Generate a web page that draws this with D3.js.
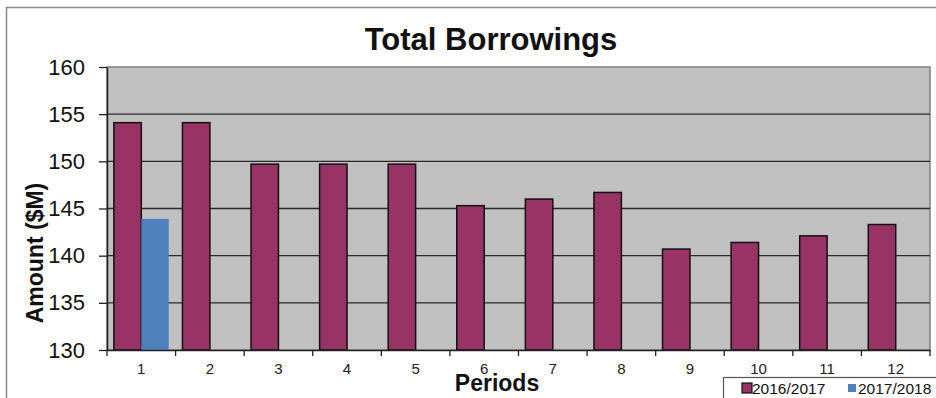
<!DOCTYPE html>
<html>
<head>
<meta charset="utf-8">
<script src="https://cdn.jsdelivr.net/npm/d3@7"></script>
<style>
  html, body { margin: 0; padding: 0; background: #fff; }
  svg { display: block; font-family: "Liberation Sans", Arial, sans-serif; }
</style>
</head>
<body>
<svg id="chart" width="936" height="398"></svg>
<script>
// Borrowings per period, in $M
const periods = ["1","2","3","4","5","6","7","8","9","10","11","12"];
const series2016 = [154.1, 154.1, 149.7, 149.7, 149.7, 145.3, 146.0, 146.7, 140.7, 141.4, 142.1, 143.3];
const series2017 = [143.9, null, null, null, null, null, null, null, null, null, null, null];
const seriesNames = ["2016/2017", "2017/2018"];
const seriesColors = ["#993366", "#4f81bd"];
const yTicks = [130, 135, 140, 145, 150, 155, 160];

const svg = d3.select("#chart");
const plot = { left: 107, right: 930, top: 67, bottom: 350 };

// outer chart frame (top and left edges visible)
svg.append("path")
  .attr("d", "M6.5,398 V7.5 H936")
  .attr("fill", "none").attr("stroke", "#8a8a8a").attr("stroke-width", 1.5);

const x = d3.scaleBand().domain(periods)
  .range([plot.left, plot.right]).paddingInner(0.2).paddingOuter(0.1);
const xs = d3.scaleBand().domain(seriesNames).range([0, x.bandwidth()]);
const y = d3.scaleLinear().domain([130, 160]).range([plot.bottom, plot.top]);

// plot background
svg.append("rect")
  .attr("x", plot.left).attr("y", plot.top)
  .attr("width", plot.right - plot.left).attr("height", plot.bottom - plot.top)
  .attr("fill", "#c0c0c0").attr("stroke", "#808080").attr("stroke-width", 1.5);

// horizontal gridlines
svg.append("g").selectAll("line")
  .data(yTicks.filter(t => t > 130 && t < 160)).join("line")
  .attr("x1", plot.left).attr("x2", plot.right)
  .attr("y1", d => y(d)).attr("y2", d => y(d))
  .attr("stroke", "#2a2a2a").attr("stroke-width", 1.3);

// bars
const rows = periods.map((p, i) => ({ p, vals: [series2016[i], series2017[i]] }));
const groups = svg.append("g").selectAll("g").data(rows).join("g")
  .attr("transform", d => `translate(${x(d.p)},0)`);
groups.selectAll("rect")
  .data(d => d.vals.map((v, k) => ({ v, k })).filter(e => e.v != null))
  .join("rect")
  .attr("x", e => xs(seriesNames[e.k]))
  .attr("width", xs.bandwidth())
  .attr("y", e => y(e.v))
  .attr("height", e => y(130) - y(e.v))
  .attr("fill", e => seriesColors[e.k])
  .attr("stroke", e => e.k === 0 ? "#111" : "none")
  .attr("stroke-width", 1.5);

// y axis
const yAxis = svg.append("g")
  .attr("transform", `translate(${plot.left},0)`)
  .call(d3.axisLeft(y).tickValues(yTicks).tickSize(8).tickPadding(14).tickSizeOuter(0));
yAxis.select(".domain").attr("stroke", "#222").attr("stroke-width", 1.5);
yAxis.selectAll(".tick line").attr("stroke", "#222").attr("stroke-width", 1.3);
yAxis.selectAll(".tick text")
  .attr("font-size", 22).attr("fill", "#111")
  .attr("font-family", "'Liberation Sans', Arial, sans-serif");

// x axis: labels at band centres, ticks at band boundaries
const xAxis = svg.append("g")
  .attr("transform", `translate(0,${plot.bottom})`)
  .call(d3.axisBottom(x).tickSize(0).tickPadding(13).tickSizeOuter(0));
xAxis.select(".domain").attr("stroke", "#222").attr("stroke-width", 1.5);
xAxis.selectAll(".tick text")
  .attr("font-size", 15).attr("fill", "#222")
  .attr("font-family", "'Liberation Sans', Arial, sans-serif");
const boundaries = d3.range(periods.length + 1).map(i => plot.left + i * x.step());
xAxis.selectAll("line.bound").data(boundaries).join("line")
  .attr("class", "bound")
  .attr("x1", d => d).attr("x2", d => d)
  .attr("y1", 0).attr("y2", 6)
  .attr("stroke", "#222").attr("stroke-width", 1.3);

// title
svg.append("text")
  .attr("x", 491).attr("y", 50)
  .attr("text-anchor", "middle")
  .attr("font-size", 31).attr("font-weight", "bold").attr("fill", "#111")
  .text("Total Borrowings");

// axis titles
svg.append("text")
  .attr("transform", "translate(43,253) rotate(-90)")
  .attr("text-anchor", "middle")
  .attr("font-size", 23).attr("font-weight", "bold").attr("fill", "#111")
  .text("Amount ($M)");
svg.append("text")
  .attr("x", 497).attr("y", 391)
  .attr("text-anchor", "middle")
  .attr("font-size", 23).attr("font-weight", "bold").attr("fill", "#111")
  .text("Periods");

// legend
const legend = svg.append("g");
legend.append("rect")
  .attr("x", 723.5).attr("y", 377.5).attr("width", 230).attr("height", 40)
  .attr("fill", "#fff").attr("stroke", "#555").attr("stroke-width", 1.2);
const legendItems = [
  { name: seriesNames[0], color: seriesColors[0], sx: 742, size: 10, stroke: "#111", tx: 752 },
  { name: seriesNames[1], color: seriesColors[1], sx: 848, size: 8, stroke: "none", tx: 858 }
];
legendItems.forEach(it => {
  legend.append("rect")
    .attr("x", it.sx).attr("y", 388 - it.size / 2)
    .attr("width", it.size).attr("height", it.size)
    .attr("fill", it.color).attr("stroke", it.stroke).attr("stroke-width", 1.2);
  legend.append("text")
    .attr("x", it.tx).attr("y", 393.5)
    .attr("font-size", 15.5).attr("fill", "#111")
    .text(it.name);
});
</script>
</body>
</html>
